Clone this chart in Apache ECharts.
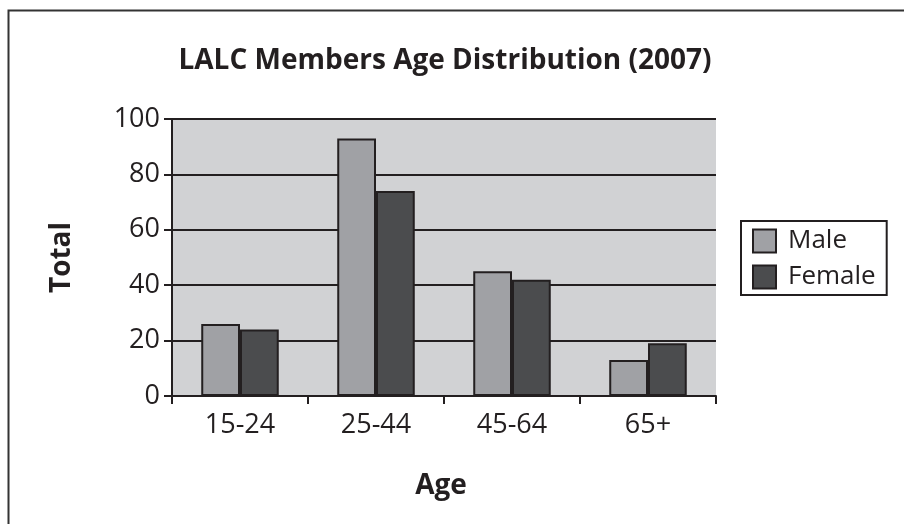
<!DOCTYPE html>
<html>
<head>
<meta charset="utf-8">
<script src="https://cdn.jsdelivr.net/npm/echarts@6/dist/echarts.min.js"></script>
<style>
  html, body { margin: 0; padding: 0; background: #ffffff; }
  #chart { width: 904px; height: 524px; }
</style>
</head>
<body>
<div id="chart"></div>
<script>
// Age groups on the category axis
const ageGroups = ['15-24', '25-44', '45-64', '65+'];
// Member counts per age group
const maleCounts = [26, 93, 45, 13];
const femaleCounts = [24, 74, 42, 19];
// Value axis range
const yMin = 0;
const yMax = 100;
const yStep = 20;

const ink = '#231f20';
const font = '"Open Sans", "DejaVu Sans", sans-serif';

const chart = echarts.init(document.getElementById('chart'), null, { renderer: 'canvas' });

chart.setOption({
  backgroundColor: '#ffffff',
  animation: false,
  textStyle: { fontFamily: font, color: ink },
  title: {
    text: 'LALC Members Age Distribution (2007)',
    left: 440,
    textAlign: 'center',
    top: 42,
    textStyle: { fontFamily: font, fontSize: 28, fontWeight: 'bold', color: ink }
  },
  graphic: [
    {
      type: 'rect',
      shape: { x: 8.5, y: 10.5, width: 910, height: 530 },
      style: { fill: 'none', stroke: '#333333', lineWidth: 2 },
      silent: true
    },
    {
      type: 'text',
      x: 441,
      y: 486,
      style: {
        text: 'Age',
        font: 'bold 28px ' + font,
        fill: ink,
        align: 'center',
        verticalAlign: 'middle'
      }
    }
  ],
  legend: {
    orient: 'vertical',
    left: 741,
    top: 221,
    padding: [7, 11, 5, 11],
    itemWidth: 23,
    itemHeight: 23,
    itemGap: 10,
    borderColor: ink,
    borderWidth: 2,
    borderRadius: 0,
    icon: 'rect',
    textStyle: { fontFamily: font, fontSize: 26, color: ink, padding: [0, 0, 0, 7] },
    data: ['Male', 'Female']
  },
  grid: {
    left: 172,
    right: 188,
    top: 119,
    bottom: 128,
    show: true,
    backgroundColor: '#d1d2d4',
    borderWidth: 0
  },
  xAxis: {
    type: 'category',
    data: ageGroups,
    boundaryGap: true,
    axisLine: { show: true, lineStyle: { color: ink, width: 2 } },
    axisTick: { show: true, length: 8, alignWithLabel: false, lineStyle: { color: ink, width: 2 } },
    axisLabel: { fontFamily: font, fontSize: 27, color: ink, margin: 16 },
    splitLine: { show: false }
  },
  yAxis: {
    type: 'value',
    min: yMin,
    max: yMax,
    interval: yStep,
    name: 'Total',
    nameLocation: 'middle',
    nameGap: 96,
    nameRotate: 90,
    nameTextStyle: { fontFamily: font, fontSize: 28, fontWeight: 'bold', color: ink },
    axisLine: { show: true, lineStyle: { color: ink, width: 2 } },
    axisTick: { show: true, length: 8, lineStyle: { color: ink, width: 2 } },
    axisLabel: { fontFamily: font, fontSize: 27, color: ink, margin: 12 },
    splitLine: { show: true, lineStyle: { color: ink, width: 2 } }
  },
  series: [
    {
      name: 'Male',
      type: 'bar',
      data: maleCounts,
      barGap: '0%',
      barCategoryGap: '43%',
      itemStyle: { color: '#a0a1a5', borderColor: ink, borderWidth: 2 }
    },
    {
      name: 'Female',
      type: 'bar',
      data: femaleCounts,
      itemStyle: { color: '#4b4c4e', borderColor: ink, borderWidth: 2 }
    }
  ]
});
</script>
</body>
</html>
